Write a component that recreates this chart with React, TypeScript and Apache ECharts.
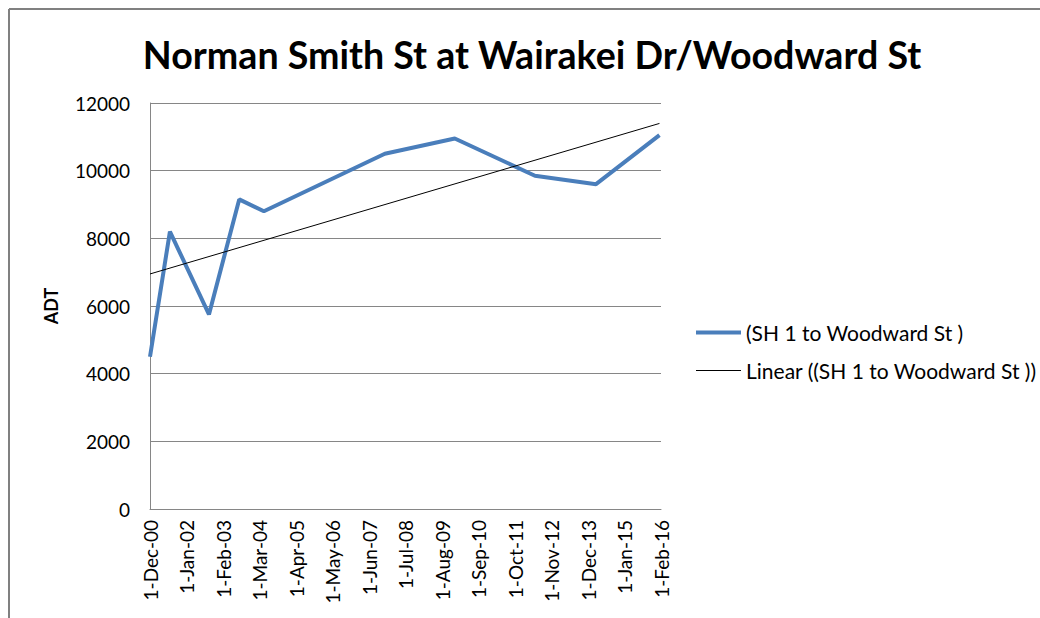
import React, { useEffect, useRef } from "react";
import * as echarts from "echarts";

const TITLE = "Norman Smith St at Wairakei Dr/Woodward St";
const SERIES_NAME = "(SH 1 to Woodward St )";
const TREND_NAME = "Linear ((SH 1 to Woodward St ))";
const Y_NAME = "ADT";

// Count dates and ADT values
const countDates = [
  "2000-12-01",
  "2001-07-04",
  "2002-09-01",
  "2003-07-25",
  "2004-04-18",
  "2007-11-20",
  "2009-12-18",
  "2012-05-04",
  "2014-02-25",
  "2016-01-15",
];
const adtValues = [4500, 8200, 5750, 9150, 8800, 10500, 10950, 9850, 9600, 11050];

// X tick labels (every 13 months from 1-Dec-00)
const xTickLabels = [
  "1-Dec-00", "1-Jan-02", "1-Feb-03", "1-Mar-04", "1-Apr-05", "1-May-06", "1-Jun-07",
  "1-Jul-08", "1-Aug-09", "1-Sep-10", "1-Oct-11", "1-Nov-12", "1-Dec-13", "1-Jan-15", "1-Feb-16",
];
const X_STEP_MONTHS = 13;
const Y_MIN = 0;
const Y_MAX = 12000;
const Y_STEP = 2000;

// months since 1-Dec-2000
function monthOffset(d: string): number {
  const [y, m, day] = d.split("-").map(Number);
  const dim = new Date(y, m, 0).getDate();
  return (y - 2000) * 12 + (m - 1) - 11 + (day - 1) / dim;
}

function linearFit(xs: number[], ys: number[]) {
  const n = xs.length;
  const mx = xs.reduce((a, b) => a + b, 0) / n;
  const my = ys.reduce((a, b) => a + b, 0) / n;
  let sxy = 0, sxx = 0;
  for (let i = 0; i < n; i++) {
    sxy += (xs[i] - mx) * (ys[i] - my);
    sxx += (xs[i] - mx) * (xs[i] - mx);
  }
  const slope = sxy / sxx;
  return { slope, intercept: my - slope * mx };
}

function measure(text: string, font: string): number {
  const c = document.createElement("canvas").getContext("2d");
  if (!c) return text.length * 20;
  c.font = font;
  return c.measureText(text).width;
}

export default function App() {
  const ref = useRef<HTMLDivElement>(null);

  useEffect(() => {
    if (!ref.current) return;
    const chart = echarts.init(ref.current, undefined, { renderer: "svg" });

    const xs = countDates.map(monthOffset);
    const lineData = xs.map((x, i) => [x, adtValues[i]]);
    const fit = linearFit(xs, adtValues);
    const x0 = xs[0];
    const x1 = xs[xs.length - 1];
    const trendData = [
      [x0, fit.intercept + fit.slope * x0],
      [x1, fit.intercept + fit.slope * x1],
    ];

    const titleFont = "bold 39px Lato";
    const titleW = measure(TITLE, titleFont);
    const titleScale = 779 / titleW;

    const font = "Lato";

    chart.setOption({
      animation: false,
      backgroundColor: "#ffffff",
      graphic: [
        {
          type: "line",
          shape: { x1: 9, y1: 9, x2: 1040, y2: 9 },
          style: { stroke: "#808080", lineWidth: 2 },
        },
        {
          type: "line",
          shape: { x1: 9, y1: 9, x2: 9, y2: 618 },
          style: { stroke: "#808080", lineWidth: 2 },
        },
        {
          type: "text",
          x: 532,
          y: 54,
          scaleX: titleScale,
          style: {
            text: TITLE,
            font: titleFont,
            fill: "#000000",
            textAlign: "center",
            textVerticalAlign: "middle",
            align: "center",
            verticalAlign: "middle",
          },
        },
      ],
      grid: { left: 150, top: 103, width: 511, height: 406 },
      legend: {
        orient: "vertical",
        left: 694,
        top: 322,
        padding: 0,
        itemWidth: 45,
        itemHeight: 20,
        itemGap: 17,
        data: [SERIES_NAME, TREND_NAME],
        lineStyle: { width: "inherit" },
        itemStyle: { opacity: 0 },
        textStyle: { fontFamily: font, fontSize: 21, lineHeight: 20, color: "#000000" },
      },
      xAxis: {
        type: "value",
        min: 0,
        max: X_STEP_MONTHS * (xTickLabels.length - 1),
        interval: X_STEP_MONTHS,
        axisLine: { show: true, lineStyle: { color: "#868686", width: 1 } },
        axisTick: { show: false },
        splitLine: { show: false },
        axisLabel: {
          rotate: 90,
          margin: 11,
          fontFamily: font,
          fontSize: 19,
          color: "#000000",
          formatter: (v: number) => xTickLabels[Math.round(v / X_STEP_MONTHS)] ?? "",
        },
      },
      yAxis: {
        type: "value",
        min: Y_MIN,
        max: Y_MAX,
        interval: Y_STEP,
        name: Y_NAME,
        nameLocation: "middle",
        nameGap: 90,
        nameTextStyle: { fontFamily: font, fontSize: 18, fontWeight: "bold", color: "#000000" },
        axisLine: { show: true, lineStyle: { color: "#868686", width: 1 } },
        axisTick: { show: false },
        splitLine: { show: true, lineStyle: { color: "#868686", width: 1 } },
        axisLabel: {
          margin: 20,
          fontFamily: font,
          fontSize: 19,
          color: "#000000",
          formatter: (v: number) => String(v),
        },
      },
      series: [
        {
          name: SERIES_NAME,
          type: "line",
          data: lineData,
          symbol: "none",
          lineStyle: { color: "#4A7EBB", width: 4 },
          itemStyle: { color: "#4A7EBB" },
        },
        {
          name: TREND_NAME,
          type: "line",
          data: trendData,
          symbol: "none",
          lineStyle: { color: "#000000", width: 1 },
          itemStyle: { color: "#000000" },
        },
      ],
    });

    return () => chart.dispose();
  }, []);

  return (
    <div
      ref={ref}
      style={{ position: "fixed", left: 0, top: 0, width: 1040, height: 618, background: "#fff" }}
    />
  );
}
